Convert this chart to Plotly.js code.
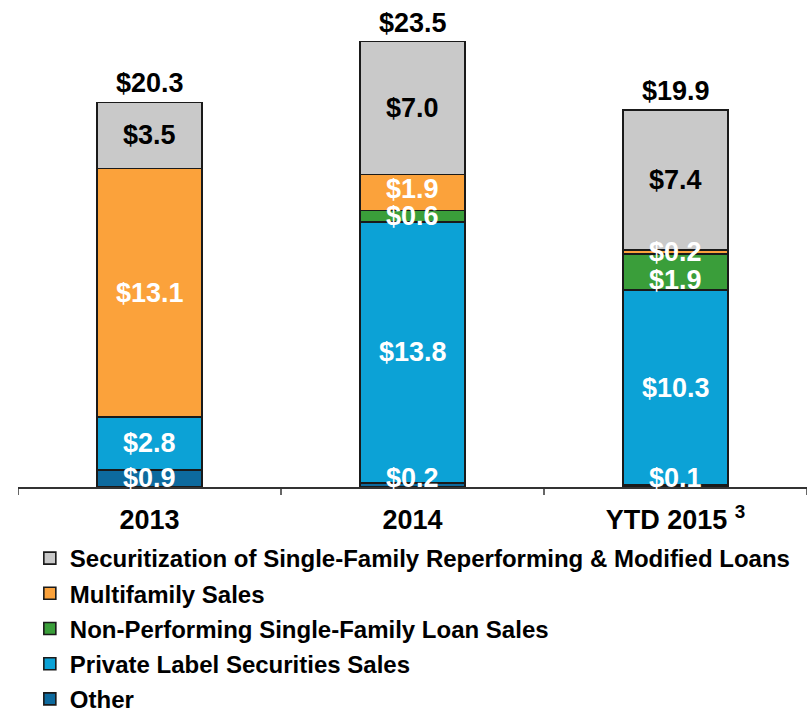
<!DOCTYPE html>
<html>
<head>
<meta charset="utf-8">
<script src="https://cdn.plot.ly/plotly-3.0.1.min.js"></script>
<style>html,body{margin:0;padding:0;background:#fff;} #chart{width:808px;height:709px;}</style>
</head>
<body>
<div id="chart"></div>
<script>
// ---- data ----
const categories = ["2013", "2014", "YTD 2015"];
const tickLabels = ["2013", "2014", "YTD 2015 <sup>3</sup>"];
const seriesNames = [
  "Other",
  "Private Label Securities Sales",
  "Non-Performing Single-Family Loan Sales",
  "Multifamily Sales",
  "Securitization of Single-Family Reperforming & Modified Loans"
];
const otherVals = [0.9, 0.2, 0.1];
const plsVals = [2.8, 13.8, 10.3];
const nplVals = [0.0, 0.6, 1.9];
const multifamilyVals = [13.1, 1.9, 0.2];
const securitizationVals = [3.5, 7.0, 7.4];
const totals = [20.3, 23.5, 19.9];

// ---- styles ----
const seriesValues = [otherVals, plsVals, nplVals, multifamilyVals, securitizationVals];
const colors = ["#0D6A9E", "#0CA2D6", "#3A9E3A", "#FBA23B", "#C9C9C9"];
const labelColors = ["#ffffff", "#ffffff", "#ffffff", "#ffffff", "#000000"];
// small per-label vertical nudges (px) to mimic the reference placement
const labelShift = [
  [0, 7, 8],
  [0, 0, 0],
  [0, 0, -8],
  [0, 3, 0],
  [0, 0, 0]
];
const FONT = "Liberation Sans, Arial, sans-serif";

const traces = seriesValues.map((vals, i) => ({
  type: "bar",
  name: seriesNames[i],
  x: [0, 1, 2],
  y: vals,
  legendgroup: "g" + i,
  legendrank: 5 - i,
  marker: { color: colors[i], line: { color: "#1a1a1a", width: 1.6 } },
  hoverinfo: "skip"
}));

const annotations = [];
categories.forEach((cat, c) => {
  let base = 0;
  seriesValues.forEach((vals, s) => {
    const v = vals[c];
    if (v > 0) {
      annotations.push({
        x: c, y: base + v / 2, xref: "x", yref: "y",
        text: "$" + v.toFixed(1), showarrow: false,
        yshift: labelShift[s][c],
        font: { family: FONT, size: 27, weight: "bold", color: labelColors[s] }
      });
    }
    base += v;
  });
  annotations.push({
    x: c, y: totals[c], xref: "x", yref: "y",
    text: "$" + totals[c].toFixed(1), showarrow: false,
    yanchor: "bottom", yshift: 2,
    font: { family: FONT, size: 27, weight: "bold", color: "#000000" }
  });
});

// category boundary tick marks
const boundaries = [-0.5, 0.5, 1.5, 2.5];
const shapes = boundaries.map(b => ({
  type: "line", xref: "x", yref: "paper",
  ysizemode: "pixel", yanchor: 0,
  x0: b, x1: b, y0: 0, y1: -8,
  line: { color: "#333333", width: 1.5 }
}));

const layout = {
  width: 808, height: 709,
  margin: { l: 18, r: 1, t: 0, b: 222 },
  paper_bgcolor: "#ffffff", plot_bgcolor: "#ffffff",
  barmode: "stack",
  bargap: 0.6,
  showlegend: true,
  legend: {
    xref: "paper", x: 0.015, xanchor: "left",
    yref: "container", y: 0.244, yanchor: "top",
    traceorder: "grouped", tracegroupgap: 1,
    font: { family: FONT, size: 24, weight: "bold", color: "#000000" },
    bgcolor: "rgba(0,0,0,0)"
  },
  xaxis: {
    type: "linear",
    range: [-0.5, 2.5],
    tickmode: "array", tickvals: [0, 1, 2], ticktext: tickLabels,
    showline: true, linecolor: "#333333", linewidth: 1.5,
    ticks: "",
    tickfont: { family: FONT, size: 27, weight: "bold", color: "#000000" },
    ticklabelstandoff: 8,
    showgrid: false, zeroline: false, fixedrange: true
  },
  yaxis: {
    range: [0, 25.7], visible: false, showgrid: false, zeroline: false, fixedrange: true
  },
  shapes: shapes,
  annotations: annotations
};

Plotly.newPlot("chart", traces, layout, { displayModeBar: false, staticPlot: true });
</script>
</body>
</html>
